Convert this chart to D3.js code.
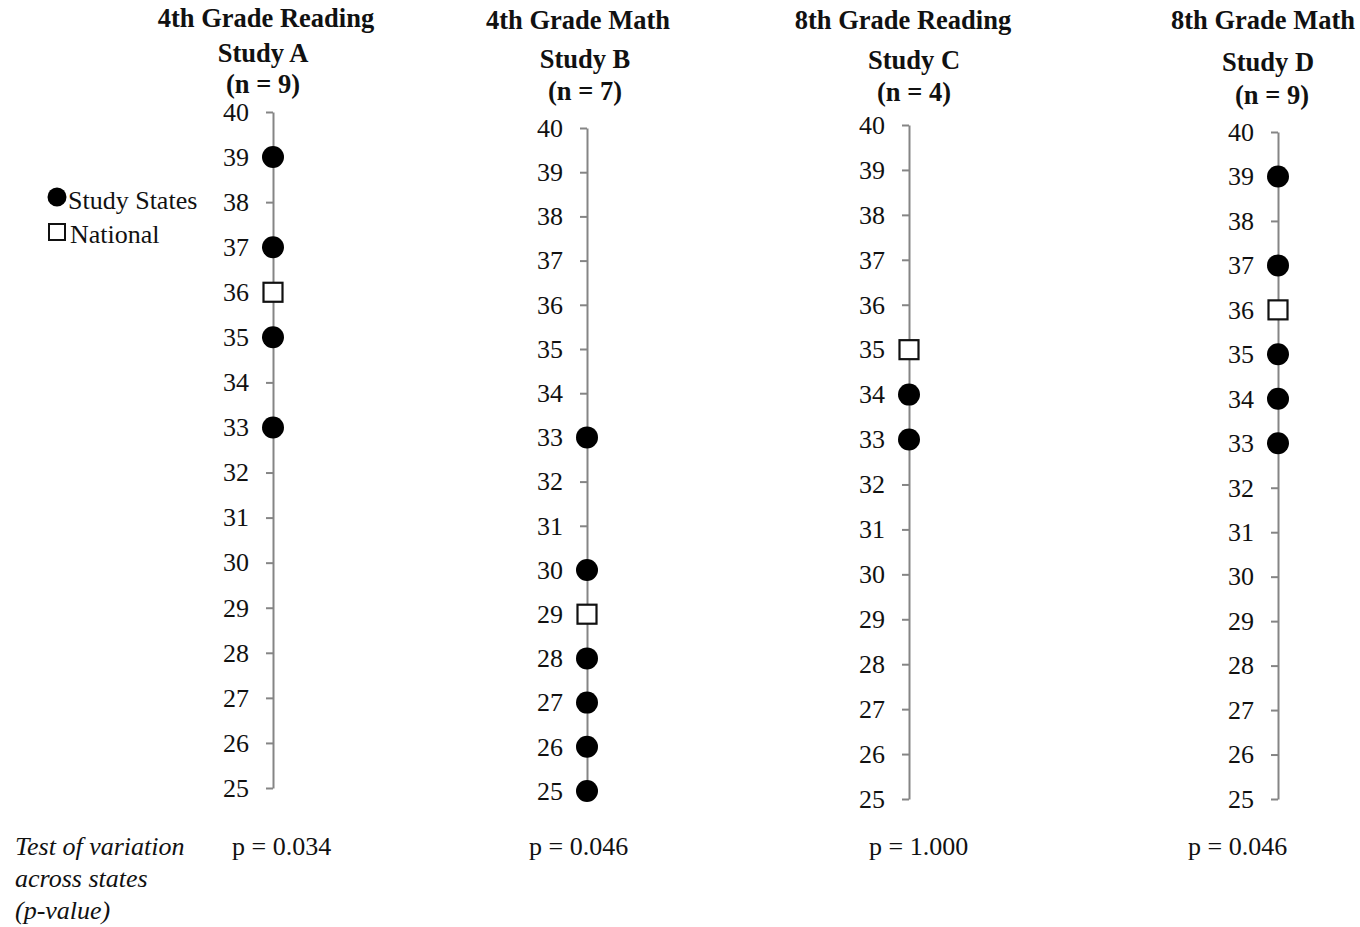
<!DOCTYPE html>
<html>
<head>
<meta charset="utf-8">
<script src="https://cdn.jsdelivr.net/npm/d3@7"></script>
<style>
  html, body { margin: 0; padding: 0; background: #fff; }
  svg { display: block; font-family: "Liberation Serif", "Times New Roman", serif; }
</style>
</head>
<body>
<svg id="chart" width="1360" height="927"></svg>
<script>
// ---- data ----
const subjects = ["4th Grade Reading", "4th Grade Math", "8th Grade Reading", "8th Grade Math"];
const studies = ["Study A", "Study B", "Study C", "Study D"];
const sampleSizes = [9, 7, 4, 9];
const stateValues = [
  [39, 37, 35, 33],
  [33, 30, 28, 27, 26, 25],
  [34, 33],
  [39, 37, 35, 34, 33]
];
const nationalValues = [36, 29, 35, 36];
const pValues = ["0.034", "0.046", "1.000", "0.046"];
const yTicks = [25, 26, 27, 28, 29, 30, 31, 32, 33, 34, 35, 36, 37, 38, 39, 40];
const legendLabels = ["Study States", "National"];
const footLabel = ["Test of variation", "across states", "(p-value)"];

// ---- layout (positions only) ----
const axisX = [273, 587, 909, 1278];
const axisTop = [112, 128, 125, 132];
const axisBottom = [788, 791, 799, 799];
const titleX = [[266, 263, 263], [578, 585, 585], [903, 914, 914], [1263, 1268, 1272]];
const titleY = [[27, 62, 93], [29, 68, 100], [29, 69, 101], [29, 71, 104]];
const pX = [232, 529, 869, 1188];

const svg = d3.select("#chart");
const FS = 26;
const TFS = 26.5;

subjects.forEach((subj, i) => {
  const y = d3.scaleLinear().domain([25, 40]).range([axisBottom[i], axisTop[i]]);
  const g = svg.append("g");

  // titles
  const lines = [subj, studies[i], `(n = ${sampleSizes[i]})`];
  lines.forEach((t, k) => {
    g.append("text")
      .attr("x", titleX[i][k]).attr("y", titleY[i][k])
      .attr("text-anchor", "middle")
      .attr("font-weight", "bold")
      .attr("font-size", TFS)
      .attr("fill", "#111")
      .text(t);
  });

  // axis
  const ax = g.append("g")
    .attr("transform", `translate(${axisX[i]},0)`)
    .call(d3.axisLeft(y).tickValues(yTicks).tickFormat(d3.format("d")).tickSize(7).tickSizeOuter(0).tickPadding(17));
  ax.select(".domain").attr("stroke", "#858585").attr("stroke-width", 2);
  ax.selectAll(".tick line").attr("stroke", "#858585").attr("stroke-width", 2);
  ax.selectAll(".tick text")
    .attr("font-size", FS)
    .attr("font-family", "'Liberation Serif', 'Times New Roman', serif")
    .attr("fill", "#111");

  // study state points
  g.selectAll("circle.state")
    .data(stateValues[i])
    .join("circle")
    .attr("class", "state")
    .attr("cx", axisX[i])
    .attr("cy", d => y(d))
    .attr("r", 11)
    .attr("fill", "#000");

  // national
  const s = 19;
  g.append("rect")
    .datum(nationalValues[i])
    .attr("x", axisX[i] - s / 2)
    .attr("y", d => y(d) - s / 2)
    .attr("width", s).attr("height", s)
    .attr("fill", "#fff")
    .attr("stroke", "#111")
    .attr("stroke-width", 2.2);

  // p value
  svg.append("text")
    .attr("x", pX[i]).attr("y", 855)
    .attr("font-size", FS)
    .attr("fill", "#111")
    .text(`p = ${pValues[i]}`);
});

// legend
svg.append("circle").attr("cx", 57).attr("cy", 197).attr("r", 9.5).attr("fill", "#000");
svg.append("text").attr("x", 68).attr("y", 209).attr("font-size", FS).attr("fill", "#111").text(legendLabels[0]);
svg.append("rect").attr("x", 49).attr("y", 224).attr("width", 16).attr("height", 16)
  .attr("fill", "#fff").attr("stroke", "#111").attr("stroke-width", 2);
svg.append("text").attr("x", 70).attr("y", 243).attr("font-size", FS).attr("fill", "#111").text(legendLabels[1]);

// footer label
footLabel.forEach((t, k) => {
  svg.append("text")
    .attr("x", 15).attr("y", 855 + k * 32)
    .attr("font-size", FS)
    .attr("font-style", "italic")
    .attr("fill", "#111")
    .text(t);
});
</script>
</body>
</html>
